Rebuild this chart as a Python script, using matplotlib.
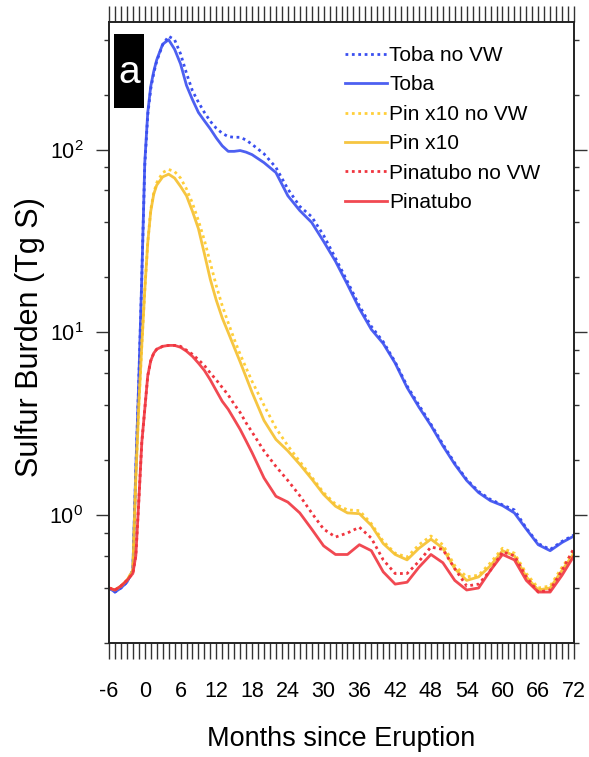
import matplotlib
matplotlib.use("Agg")
import matplotlib.pyplot as plt
from matplotlib import font_manager
from matplotlib.ticker import MultipleLocator, LogLocator, NullFormatter, LogFormatterSciNotation
from matplotlib.patches import Rectangle

# ---- data: sulfur burden (Tg S) vs months since eruption ----
months = [-6, -5, -4, -3, -2, -1.5, -1, -0.5, 0, 0.5, 1, 1.5, 2,
          3, 4, 5, 6, 7, 8, 9, 10, 11, 12, 13, 14, 15, 16, 17, 18,
          20, 22, 24, 26, 28, 30, 32, 34, 36, 38, 40, 42, 44, 46, 48,
          50, 52, 54, 56, 58, 60, 62, 64, 66, 68, 70, 72]

toba_novw = [0.40, 0.38, 0.40, 0.43, 0.50, 1.8, 5.5, 20, 82, 155, 215, 262, 305,
             375, 418, 400, 335, 262, 210, 182, 160, 143, 131, 123, 118, 117, 117, 113, 107,
             95, 80, 61, 49, 43, 34, 25.5, 19, 14, 10.8, 8.9, 6.9, 5.1, 4.0, 3.15,
             2.45, 1.93, 1.57, 1.35, 1.22, 1.14, 1.07, 0.85, 0.70, 0.65, 0.72, 0.78]
toba = [0.40, 0.38, 0.40, 0.43, 0.50, 1.8, 5.5, 20, 85, 160, 222, 268, 310,
        378, 400, 355, 295, 225, 188, 160, 144, 130, 116, 105, 98, 98, 99, 97, 94,
        85, 75, 56, 46.5, 40, 31.5, 24.5, 18.3, 13.5, 10.4, 8.7, 6.8, 5.0, 3.9, 3.1,
        2.4, 1.9, 1.55, 1.33, 1.2, 1.13, 1.03, 0.84, 0.69, 0.64, 0.71, 0.77]
pinx10_novw = [0.40, 0.39, 0.41, 0.44, 0.50, 1.6, 4.0, 8.5, 17, 31, 47, 58, 66,
               75, 78, 76, 70, 61, 51, 41, 32, 24, 18, 14, 11.3, 9.2, 7.6, 6.4, 5.4,
               4.0, 3.0, 2.4, 1.97, 1.62, 1.33, 1.15, 1.07, 1.06, 0.90, 0.72, 0.62, 0.59, 0.69, 0.77,
               0.69, 0.53, 0.46, 0.47, 0.55, 0.66, 0.62, 0.48, 0.40, 0.41, 0.52, 0.64]
pinx10 = [0.40, 0.39, 0.41, 0.44, 0.50, 1.6, 4.0, 8.5, 17, 31, 46, 57, 64,
          71, 73.5, 70, 63, 56, 46, 37, 27, 19.5, 15, 12, 10, 8.3, 6.9, 5.7, 4.7,
          3.3, 2.6, 2.25, 1.9, 1.58, 1.3, 1.12, 1.03, 1.02, 0.88, 0.70, 0.61, 0.57, 0.66, 0.74,
          0.66, 0.51, 0.44, 0.46, 0.53, 0.64, 0.60, 0.46, 0.39, 0.40, 0.50, 0.62]
pina_novw = [0.40, 0.39, 0.41, 0.44, 0.48, 0.6, 1.2, 2.5, 3.8, 5.8, 7.0, 7.7, 8.1,
             8.4, 8.5, 8.5, 8.4, 8.0, 7.6, 7.1, 6.6, 6.0, 5.5, 5.0, 4.55, 4.05, 3.65, 3.2, 2.85,
             2.25, 1.85, 1.55, 1.28, 1.03, 0.84, 0.76, 0.80, 0.86, 0.75, 0.57, 0.48, 0.48, 0.56, 0.67,
             0.65, 0.51, 0.41, 0.42, 0.50, 0.63, 0.60, 0.46, 0.38, 0.39, 0.50, 0.66]
pina = [0.40, 0.39, 0.41, 0.44, 0.48, 0.6, 1.2, 2.5, 3.8, 5.8, 7.0, 7.7, 8.1,
        8.4, 8.5, 8.5, 8.3, 7.9, 7.4, 6.8, 6.2, 5.5, 4.8, 4.2, 3.8, 3.35, 2.95, 2.55, 2.2,
        1.6, 1.27, 1.18, 1.03, 0.84, 0.68, 0.61, 0.61, 0.69, 0.64, 0.49, 0.42, 0.43, 0.52, 0.61,
        0.55, 0.44, 0.39, 0.40, 0.50, 0.61, 0.57, 0.44, 0.38, 0.38, 0.47, 0.60]

series_labels = ["Toba no VW", "Toba", "Pin x10 no VW", "Pin x10",
                 "Pinatubo no VW", "Pinatubo"]
x_ticks = list(range(-6, 73, 6))

# ---- fonts ----
installed = {f.name for f in font_manager.fontManager.ttflist}
base_font = "Liberation Sans Narrow" if "Liberation Sans Narrow" in installed else "Liberation Sans"

plt.rcParams["font.family"] = [base_font, "DejaVu Sans"]
plt.rcParams["mathtext.fontset"] = "custom"
plt.rcParams["mathtext.rm"] = base_font
plt.rcParams["mathtext.default"] = "regular"
plt.rcParams["axes.unicode_minus"] = False

fig = plt.figure(figsize=(5.89, 7.57), dpi=100)
ax = fig.add_axes([109 / 589, 1 - 643 / 757, 465 / 589, 621 / 757])

blue = "#3a4ff0"
yellow = "#f5bf2c"
yellow_dot = "#ffcf3a"
red = "#f0353f"
dot = (0, (1.0, 1.3))
lw = 2.0

ax.plot(months, toba_novw, color=blue, lw=lw, ls=dot, label=series_labels[0])
ax.plot(months, toba, color=blue, lw=lw, label=series_labels[1], alpha=0.9)
ax.plot(months, pinx10_novw, color=yellow_dot, lw=lw, ls=dot, label=series_labels[2])
ax.plot(months, pinx10, color=yellow, lw=lw, label=series_labels[3], alpha=0.9)
ax.plot(months, pina_novw, color=red, lw=lw, ls=dot, label=series_labels[4])
ax.plot(months, pina, color=red, lw=lw, label=series_labels[5], alpha=0.9)

ax.set_yscale("log")
ax.set_ylim(0.2, 500)
ax.set_xlim(-6, 72)

ax.xaxis.set_major_locator(MultipleLocator(6))
ax.xaxis.set_minor_locator(MultipleLocator(1))
ax.set_xticks(x_ticks)
ax.yaxis.set_major_locator(LogLocator(base=10, numticks=10))
ax.yaxis.set_minor_locator(LogLocator(base=10, subs=[2, 4, 6, 8], numticks=10))
ax.yaxis.set_major_formatter(LogFormatterSciNotation())
ax.yaxis.set_minor_formatter(NullFormatter())

ax.tick_params(axis="x", which="both", direction="out", top=True, bottom=True,
               length=11.5, width=1.0, color="#333333")
ax.tick_params(axis="x", which="major", labelsize=15.5, pad=16)
ax.tick_params(axis="y", which="major", direction="out", left=True, right=True,
               length=9.5, width=1.0, labelsize=15.5, pad=9, color="#333333")
ax.tick_params(axis="y", which="minor", direction="out", left=True, right=True,
               length=3.8, width=1.0, color="#333333")
for s in ax.spines.values():
    s.set_linewidth(1.4)
    s.set_color("#222222")

ax.set_xlabel("Months since Eruption", fontsize=19.5, va="center")
ax.xaxis.set_label_coords(0.5, (643 - 739) / 621)
ax.set_ylabel("Sulfur Burden (Tg S)", fontsize=22, va="center")
ax.yaxis.set_label_coords((30 - 109) / 465, (643 - 337) / 621)

# panel tag
ax.add_patch(Rectangle(((114 - 109) / 465, (643 - 108) / 621), 30 / 465, 74 / 621,
                       transform=ax.transAxes, facecolor="black", edgecolor="none",
                       zorder=5))
ax.text((129 - 109) / 465, (643 - 73) / 621, "a", transform=ax.transAxes,
        color="white", fontsize=28, ha="center", va="center", zorder=6)

leg = ax.legend(loc="upper left", bbox_to_anchor=((345 - 109) / 465, (643 - 46) / 621),
                frameon=False, fontsize=15, handlelength=2.0, handletextpad=0.12,
                labelspacing=0.5, borderpad=0, borderaxespad=0)

fig.savefig("out.png", dpi=100)
